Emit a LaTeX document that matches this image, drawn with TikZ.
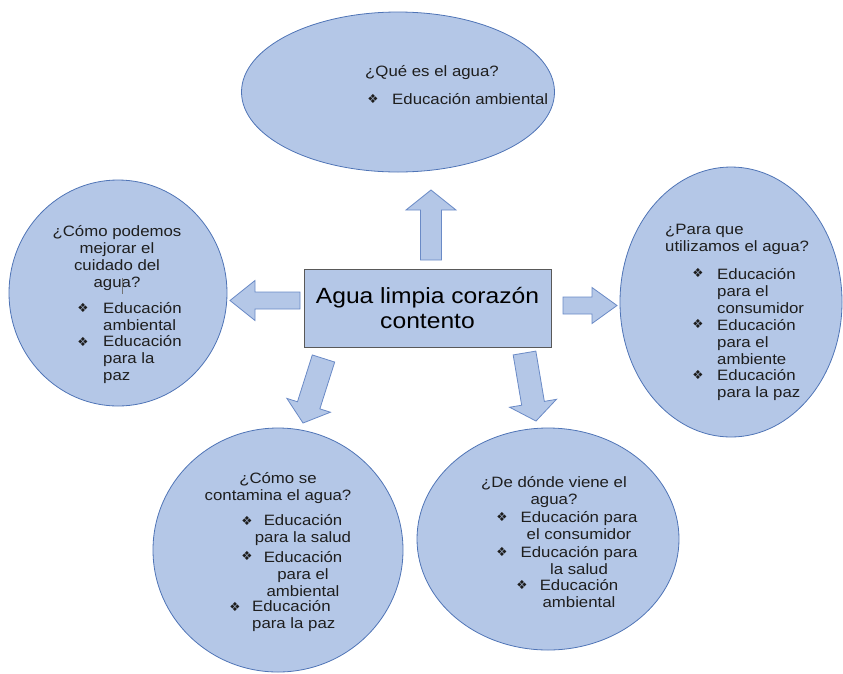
\documentclass[tikz,border=0pt]{standalone}
\usepackage{fontspec}
\setmainfont{Liberation Sans}[FakeStretch=1.12]
\newfontfamily\simbolo{DejaVu Sans}
\usetikzlibrary{shapes.geometric}
\definecolor{relleno}{HTML}{B4C7E7}
\definecolor{borde}{HTML}{4F74B6}
\definecolor{bordeflecha}{HTML}{6A8AC6}
\definecolor{tinta}{HTML}{1E1E1E}
\def\vineta{{\simbolo\fontsize{12.5}{12.5}\selectfont ❖}}
\def\flecha[#1](#2)(#3:#4:#5:#6:#7){\draw[#1, shift={(#2)}, rotate=#3] (0,-#5/2) -- ({#4-#7},-#5/2) -- ({#4-#7},-#6/2) -- (#4,0) -- ({#4-#7},#6/2) -- ({#4-#7},#5/2) -- (0,#5/2) -- cycle;}
\tikzset{
  burbuja/.style={ellipse, fill=relleno, draw=borde, line width=0.8pt, inner sep=0pt},
  texto/.style={text=tinta, inner sep=0pt, font=\fontsize{15}{17}\selectfont},
  vin/.style={text=tinta, inner sep=0pt},
  bloque/.style={fill=relleno, draw=bordeflecha, line width=0.8pt, line join=miter}
}

\begin{document}
\begin{tikzpicture}[x=1pt, y=-1pt]
			%%%%% START %%%%%
			\useasboundingbox (0,0) rectangle (843,673);
			
			% burbujas
			\node[burbuja, minimum width=313, minimum height=160] (qagua) at (398,92) {};
			\node[burbuja, minimum width=218, minimum height=226] (mejorar) at (118,293) {};
			\node[burbuja, minimum width=222, minimum height=270] (utilizar) at (731,302) {};
			\node[burbuja, minimum width=250, minimum height=244] (contamina) at (278,550) {};
			\node[burbuja, minimum width=262, minimum height=222] (viene) at (548,539) {};
			
			% flechas
			\flecha[bloque](431,260)(90:70:21:50:20)
			\flecha[bloque](300,300.5)(180:70:17:40:25)
			\flecha[bloque](563,305.5)(0:54:17:36:25)
			\flecha[bloque](323.5,358.5)(-107.6:67.7:23.5:45.7:18.6)
			\flecha[bloque](524.5,353)(-80.4:69:23:47.5:18)
			
			% centro
			\node[fill=relleno, draw=black!65, line width=0.9pt, minimum width=247, minimum height=78, inner sep=0pt,
			      align=center, text=black, font=\fontsize{22}{25}\selectfont] (titulo) at (427.5,308) {Agua limpia corazón\\contento};
			
			% arriba
			\node[texto, anchor=west] (h1) at (365,73) {¿Qué es el agua?};
			\node[vin] (v1) at (373,99) {\vineta};
			\node[texto, anchor=west] (i1) at (392,99) {Educación ambiental};
			
			% izquierda
			\node[texto, align=center] (h2) at (117,258) {¿Cómo podemos\\mejorar el\\cuidado del\\agua?};
			\draw[black!55, line width=0.6pt] (122,278) -- (122,294);
			\node[vin] (v2a) at (83,308) {\vineta};
			\node[vin] (v2b) at (83,342) {\vineta};
			\node[texto, align=left, anchor=west] (i2a) at (103,317) {Educación\\ambiental};
			\node[texto, align=left, anchor=west] (i2b) at (103,360) {Educación\\para la\\paz};
			
			% derecha
			\node[texto, align=left, anchor=west] (h3) at (665,239) {¿Para que\\utilizamos el agua?};
			\node[vin] (v3a) at (698,273) {\vineta};
			\node[vin] (v3b) at (698,324) {\vineta};
			\node[vin] (v3c) at (698,375) {\vineta};
			\node[texto, align=left, anchor=west] (i3a) at (717,291) {Educación\\para el\\consumidor};
			\node[texto, align=left, anchor=west] (i3b) at (717,342) {Educación\\para el\\ambiente};
			\node[texto, align=left, anchor=west] (i3c) at (717,385) {Educación\\para la paz};
			
			% abajo izquierda
			\node[texto, align=center] (h4) at (278,488) {¿Cómo se\\contamina el agua?};
			\node[vin] (v4a) at (247,521) {\vineta};
			\node[vin] (v4b) at (247,556) {\vineta};
			\node[vin] (v4c) at (235,607) {\vineta};
			\node[texto, align=center] (i4a) at (303,530) {Educación\\para la salud};
			\node[texto, align=center] (i4b) at (303,574) {Educación\\para el\\ambiental};
			\node[texto, align=left, anchor=west] (i4c) at (252,616) {Educación\\para la paz};
			
			% abajo derecha
			\node[texto, align=center] (h5) at (554,492) {¿De dónde viene el\\agua?};
			\node[vin] (v5a) at (502,517) {\vineta};
			\node[vin] (v5b) at (502,552) {\vineta};
			\node[vin] (v5c) at (522,585) {\vineta};
			\node[texto, align=center] (i5a) at (579,526) {Educación para\\el consumidor};
			\node[texto, align=center] (i5b) at (579,561) {Educación para\\la salud};
			\node[texto, align=center] (i5c) at (579,594) {Educación\\ambiental};
			
			%%%%% END %%%%%
\end{tikzpicture}
\end{document}
